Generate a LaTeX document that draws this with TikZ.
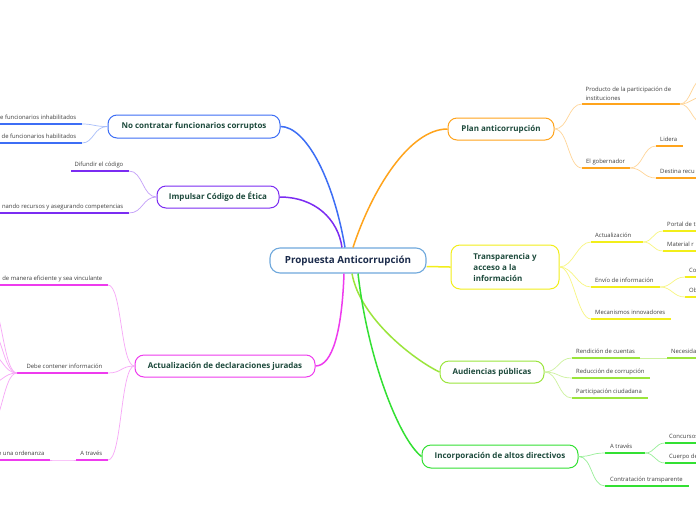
\documentclass[tikz,border=0pt]{standalone}
\usepackage{fontspec}
\setmainfont{Open Sans}
\definecolor{blueC}{HTML}{3D6EF5}
\definecolor{purpleC}{HTML}{7B2CF2}
\definecolor{magC}{HTML}{EE3BEE}
\definecolor{orgC}{HTML}{FFA41C}
\definecolor{yelC}{HTML}{F2EE1A}
\definecolor{lgrC}{HTML}{9BE53C}
\definecolor{grnC}{HTML}{33E033}
\definecolor{cenC}{HTML}{6FA8DC}
\definecolor{maintext}{HTML}{1D4A3C}
\definecolor{centext}{HTML}{1B2B4B}
\definecolor{childtext}{HTML}{404040}
\begin{document}
\begin{tikzpicture}[x=1pt,y=-1pt,
  mainbox/.style={draw, rounded corners=9pt, line width=1pt, fill=white, inner sep=2pt,
    font=\bfseries\fontsize{8}{11}\selectfont, text=maintext},
  cenbox/.style={draw=cenC, rounded corners=10pt, line width=1.1pt, fill=white, inner sep=2pt,
    font=\bfseries\fontsize{9.8}{11}\selectfont, text=centext},
  ctxt/.style={font=\fontsize{5.9}{9.3}\selectfont, text=childtext, inner sep=0pt},
  ul/.style={line width=1.7pt},
  cn/.style={line width=0.7pt},
  trunk/.style={line width=1.5pt}]
\useasboundingbox (0,0) rectangle (696,520);
\fill[white] (0,0) rectangle (696,520);
\clip (0,0) rectangle (696,520);

% ---------- main nodes
\node[cenbox, minimum width=156pt, minimum height=25pt] (c) at (348,260.5) {Propuesta Anticorrupción};
\node[mainbox, draw=blueC, minimum width=172pt, minimum height=23pt] (nc) at (194,126.5) {No contratar funcionarios corruptos};
\node[mainbox, draw=purpleC, minimum width=122pt, minimum height=22pt] (ic) at (218,197) {Impulsar Código de Ética};
\node[mainbox, draw=magC, minimum width=180pt, minimum height=22pt] (ad) at (225,366) {Actualización de declaraciones juradas};
\node[mainbox, draw=orgC, minimum width=106pt, minimum height=22pt] (pa) at (501,129) {Plan anticorrupción};
\node[mainbox, draw=yelC, minimum width=108pt, minimum height=44pt, align=left] (tr) at (505,267) {Transparencia y\\acceso a la\\información};
\node[mainbox, draw=lgrC, minimum width=104pt, minimum height=22pt] (au) at (492,372) {Audiencias públicas};
\node[mainbox, draw=grnC, minimum width=156pt, minimum height=23pt] (inc) at (500,456.5) {Incorporación de altos directivos};

% ---------- trunk connectors
\draw[trunk, blueC] ([xshift=-3pt]c.north) .. controls +(-12,-70) and +(25,0) .. (nc.east);
\draw[trunk, purpleC] ([xshift=-6pt]c.north) .. controls +(-4,-28) and +(36,0) .. (ic.east);
\draw[trunk, orgC] ([xshift=5pt]c.north) .. controls +(19,-58) and +(-38,0) .. (pa.west);
\draw[trunk, yelC] ([yshift=-6pt]c.east) .. controls +(10,0) and +(-10,0) .. (tr.west);
\draw[trunk, magC] ([xshift=-4pt]c.south) .. controls +(-2,57) and +(17,0) .. (ad.east);
\draw[trunk, lgrC] ([xshift=4pt]c.south) .. controls +(8,45) and +(-25,-12) .. (au.west);
\draw[trunk, grnC] ([xshift=10pt]c.south) .. controls +(10,87) and +(-22,-17) .. (inc.west);

% ---------- No contratar
\coordinate (n1L) at (-5,124); \coordinate (n1R) at (82,124);
\coordinate (n2L) at (-5,143); \coordinate (n2R) at (82,143);
\node[ctxt, anchor=base east] (n1) at (76.5,119) {e funcionarios inhabilitados};
\node[ctxt, anchor=base east] (n2) at (76.5,138) {de funcionarios habilitados};
\draw[ul, blueC] (n1L) -- (n1R);
\draw[ul, blueC] (n2L) -- (n2R);
\draw[cn, blueC!45] (nc.west) .. controls +(-14,0) and +(12,0) .. (n1R);
\draw[cn, blueC!45] (nc.west) .. controls +(-14,0) and +(12,0) .. (n2R);

% ---------- Impulsar Codigo
\coordinate (i1L) at (71,171); \coordinate (i1R) at (129,171);
\coordinate (i2L) at (-5,213); \coordinate (i2R) at (129,213);
\node[ctxt, anchor=base east] (i1) at (123.5,166) {Difundir el código};
\node[ctxt, anchor=base east] (i2) at (123.5,208) {nando recursos y asegurando competencias};
\draw[ul, purpleC] (i1L) -- (i1R);
\draw[ul, purpleC] (i2L) -- (i2R);
\draw[cn, purpleC!45] (ic.west) .. controls +(-14,0) and +(14,0) .. (i1R);
\draw[cn, purpleC!45] (ic.west) .. controls +(-14,0) and +(14,0) .. (i2R);

% ---------- Actualizacion de declaraciones
\coordinate (a1L) at (-5,285); \coordinate (a1R) at (108,285);
\coordinate (a2L) at (17,373); \coordinate (a2R) at (108,373);
\coordinate (a3L) at (76,460); \coordinate (a3R) at (108,460);
\coordinate (a4L) at (-5,460); \coordinate (a4R) at (50,460);
\node[ctxt, anchor=base east] (a1) at (102.5,280) {de manera eficiente y sea vinculante};
\node[ctxt, anchor=base east] (a2) at (102.5,368) {Debe contener información};
\node[ctxt, anchor=base east] (a3) at (102.5,455) {A través};
\node[ctxt, anchor=base east] (a4) at (44.5,455) {e una ordenanza};
\draw[ul, magC] (a1L) -- (a1R);
\draw[ul, magC] (a2L) -- (a2R);
\draw[ul, magC] (a3L) -- (a3R);
\draw[ul, magC] (a4L) -- (a4R);
\draw[cn, magC!45] (ad.west) .. controls +(-14,0) and +(14,0) .. (a1R);
\draw[cn, magC!45] (ad.west) .. controls +(-14,0) and +(14,0) .. (a2R);
\draw[cn, magC!45] (ad.west) .. controls +(-14,0) and +(14,0) .. (a3R);
\draw[cn, magC!45] (a3L) .. controls +(-12,0) and +(12,0) .. (a4R);
\coordinate (a21) at (-12,298);
\coordinate (a22) at (-12,327);
\coordinate (a23) at (-12,353);
\coordinate (a24) at (-12,384);
\coordinate (a25) at (-12,428);
\foreach \k in {a21,a22,a23,a24,a25}
  \draw[cn, magC!45] (a2L) .. controls +(-14,0) and +(14,0) .. (\k);

% ---------- Plan anticorrupcion
\coordinate (p1L) at (582,104); \coordinate (p1R) at (680,104);
\coordinate (p2L) at (582,168); \coordinate (p2R) at (630,168);
\coordinate (p21L) at (656,146); \coordinate (p21R) at (683,146);
\coordinate (p22L) at (656,178); \coordinate (p22R) at (712,178);
\node[ctxt, anchor=north west, align=left] (p1) at (585.5,86.3) {Producto de la participación de\\instituciones};
\node[ctxt, anchor=base west] (p2) at (586,163) {El gobernador};
\node[ctxt, anchor=base west] (p21) at (660,141) {Lidera};
\node[ctxt, anchor=base west] (p22) at (660,173) {Destina recu};
\draw[ul, orgC] (p1L) -- (p1R);
\draw[ul, orgC] (p2L) -- (p2R);
\draw[ul, orgC] (p21L) -- (p21R);
\draw[ul, orgC] (p22L) -- (p22R);
\draw[cn, orgC!45] (pa.east) .. controls +(14,0) and +(-14,0) .. (p1L);
\draw[cn, orgC!45] (pa.east) .. controls +(14,0) and +(-14,0) .. (p2L);
\draw[cn, orgC!45] (p2R) .. controls +(13,0) and +(-13,0) .. (p21L);
\draw[cn, orgC!45] (p2R) .. controls +(13,0) and +(-13,0) .. (p22L);
\coordinate (p11) at (703,79);
\coordinate (p12) at (703,97);
\coordinate (p13) at (703,123);
\foreach \k in {p11,p12,p13}
  \draw[cn, orgC!45] (p1R) .. controls +(11,0) and +(-11,0) .. (\k);

% ---------- Transparencia
\coordinate (t1L) at (591,242); \coordinate (t1R) at (643,242);
\coordinate (t11L) at (663,231); \coordinate (t11R) at (712,231);
\coordinate (t12L) at (663,251); \coordinate (t12R) at (712,251);
\coordinate (t2L) at (591,287); \coordinate (t2R) at (660,287);
\coordinate (t21L) at (685,277); \coordinate (t21R) at (712,277);
\coordinate (t22L) at (685,297); \coordinate (t22R) at (712,297);
\coordinate (t3L) at (591,319); \coordinate (t3R) at (671,319);
\node[ctxt, anchor=base west] (t1) at (595,237) {Actualización};
\node[ctxt, anchor=base west] (t11) at (667,226) {Portal de t};
\node[ctxt, anchor=base west] (t12) at (667,246) {Material r};
\node[ctxt, anchor=base west] (t2) at (595,282) {Envío de información};
\node[ctxt, anchor=base west] (t21) at (689,272) {Co};
\node[ctxt, anchor=base west] (t22) at (689,292) {Ob};
\node[ctxt, anchor=base west] (t3) at (595,314) {Mecanismos innovadores};
\foreach \k in {t1,t11,t12,t2,t21,t22,t3}
  \draw[ul, yelC] (\k L) -- (\k R);
\draw[cn, yelC!55] (tr.east) .. controls +(14,0) and +(-14,0) .. (t1L);
\draw[cn, yelC!55] (tr.east) .. controls +(14,0) and +(-14,0) .. (t2L);
\draw[cn, yelC!55] (tr.east) .. controls +(14,0) and +(-14,0) .. (t3L);
\draw[cn, yelC!55] (t1R) .. controls +(10,0) and +(-10,0) .. (t11L);
\draw[cn, yelC!55] (t1R) .. controls +(10,0) and +(-10,0) .. (t12L);
\draw[cn, yelC!55] (t2R) .. controls +(12,0) and +(-12,0) .. (t21L);
\draw[cn, yelC!55] (t2R) .. controls +(12,0) and +(-12,0) .. (t22L);

% ---------- Audiencias
\coordinate (u1L) at (572,358); \coordinate (u1R) at (640,358);
\coordinate (u11L) at (667,358); \coordinate (u11R) at (712,358);
\coordinate (u2L) at (572,378); \coordinate (u2R) at (650,378);
\coordinate (u3L) at (572,398); \coordinate (u3R) at (648,398);
\node[ctxt, anchor=base west] (u1) at (576,353) {Rendición de cuentas};
\node[ctxt, anchor=base west] (u11) at (671,353) {Necesida};
\node[ctxt, anchor=base west] (u2) at (576,373) {Reducción de corrupción};
\node[ctxt, anchor=base west] (u3) at (576,393) {Participación ciudadana};
\foreach \k in {u1,u11,u2,u3}
  \draw[ul, lgrC] (\k L) -- (\k R);
\draw[cn, lgrC!50] (au.east) .. controls +(14,0) and +(-14,0) .. (u1L);
\draw[cn, lgrC!50] (au.east) .. controls +(14,0) and +(-14,0) .. (u2L);
\draw[cn, lgrC!50] (au.east) .. controls +(14,0) and +(-14,0) .. (u3L);
\draw[cn, lgrC!50] (u1R) -- (u11L);

% ---------- Incorporacion
\coordinate (g1L) at (605,453); \coordinate (g1R) at (645,453);
\coordinate (g11L) at (665,443); \coordinate (g11R) at (712,443);
\coordinate (g12L) at (665,463); \coordinate (g12R) at (712,463);
\coordinate (g2L) at (605,486); \coordinate (g2R) at (689,486);
\node[ctxt, anchor=base west] (g1) at (610,448) {A través};
\node[ctxt, anchor=base west] (g11) at (669,438) {Concursos};
\node[ctxt, anchor=base west] (g12) at (669,458) {Cuerpo de};
\node[ctxt, anchor=base west] (g2) at (610,481) {Contratación transparente};
\foreach \k in {g1,g11,g12,g2}
  \draw[ul, grnC] (\k L) -- (\k R);
\draw[cn, grnC!50] (inc.east) .. controls +(14,0) and +(-14,0) .. (g1L);
\draw[cn, grnC!50] (inc.east) .. controls +(14,0) and +(-14,0) .. (g2L);
\draw[cn, grnC!50] (g1R) .. controls +(10,0) and +(-10,0) .. (g11L);
\draw[cn, grnC!50] (g1R) .. controls +(10,0) and +(-10,0) .. (g12L);
\end{tikzpicture}
\end{document}
